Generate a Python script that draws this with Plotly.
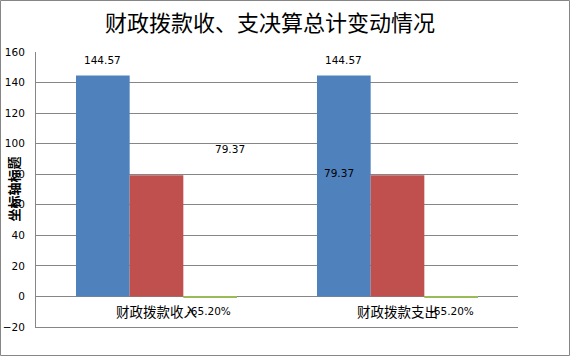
import plotly.graph_objects as go

categories = ["财政拨款收入", "财政拨款支出"]
series_names = ["系列1", "系列2", "系列3"]
series_1 = [144.57, 144.57]
series_2 = [79.37, 79.37]
series_3 = [-0.652, -0.652]
series_3_labels = ["-65.20%", "-65.20%"]
colors = ["#4F81BD", "#C0504D", "#9BBB59"]
y_ticks = [-20, 0, 20, 40, 60, 80, 100, 120, 140, 160]

# label pixel offsets (xshift, yshift) per series per category
label_offsets = [
    [(0, 8), (0, 8)],
    [(73, 26), (-59, 2)],
    [(-1, -14), (1, -14)],
]

bargap = 0.332
W, H = 571, 357
ML, MR, MT, MB = 36, 53, 52, 30

fig = go.Figure()
all_series = [series_1, series_2, series_3]
for name, vals, col in zip(series_names, all_series, colors):
    fig.add_trace(go.Bar(x=categories, y=vals, name=name, marker=dict(color=col, line=dict(width=0))))

bw = (1 - bargap) / 3
font_num = dict(family="DejaVu Sans", size=10.5, color="#000000")
annotations = []
for j, vals in enumerate(all_series):
    for i, v in enumerate(vals):
        xs, ys = label_offsets[j][i]
        if j == 2:
            text = series_3_labels[i]
        else:
            text = f"{v:.2f}"
        if j == 0:
            yanchor = "bottom"
        else:
            yanchor = "middle"
        annotations.append(dict(
            x=i + (j - 1) * bw, y=v, xref="x", yref="y", text=text,
            showarrow=False, xanchor="center", yanchor=yanchor,
            xshift=xs, yshift=ys, font=font_num))

for i, c in enumerate(categories):
    annotations.append(dict(
        x=i, y=0, xref="x", yref="y", text=c, showarrow=False,
        xanchor="center", yanchor="middle", yshift=-15,
        font=dict(family="Noto Sans CJK SC", size=13.5, color="#000000")))

pw = W - ML - MR
ph = H - MT - MB
annotations.append(dict(
    x=-23 / pw, y=0.5, xref="paper", yref="paper", text="<b>坐标轴标题</b>",
    showarrow=False, textangle=-90, xanchor="center", yanchor="middle",
    font=dict(family="Noto Sans CJK SC", size=13, color="#000000")))

fig.update_layout(
    width=W, height=H,
    margin=dict(l=ML, r=MR, t=MT, b=MB, pad=0, autoexpand=False),
    paper_bgcolor="#FFFFFF", plot_bgcolor="#FFFFFF",
    barmode="group", bargap=bargap, bargroupgap=0,
    showlegend=False,
    title=dict(text="财政拨款收、支决算总计变动情况", x=270 / W, xanchor="center",
               y=1 - 23 / H, yanchor="middle", automargin=False,
               font=dict(family="Noto Sans CJK SC", size=22, color="#000000")),
    xaxis=dict(showticklabels=False, showgrid=False, showline=True, linecolor="#868686", linewidth=1,
               zeroline=False, ticks="", automargin=False),
    yaxis=dict(range=[-20, 160], tickvals=y_ticks, showgrid=True, gridcolor="#868686", gridwidth=1,
               showline=True, linecolor="#868686", linewidth=1, zeroline=False, ticks="",
               ticklabelstandoff=8, automargin=False,
               tickfont=dict(family="DejaVu Sans", size=10.5, color="#000000")),
    annotations=annotations,
    shapes=[dict(type="rect", xref="paper", yref="paper",
                 x0=(-ML + 0.5) / pw, x1=1 + (MR - 1.5) / pw,
                 y0=(-MB + 1.5) / ph, y1=1 + (MT - 0.5) / ph,
                 line=dict(color="#868686", width=1), fillcolor="rgba(0,0,0,0)", layer="below")],
)

fig.write_html("out.html", config={"displayModeBar": False},
               post_script="document.body.style.margin='0';document.body.style.overflow='hidden';")
